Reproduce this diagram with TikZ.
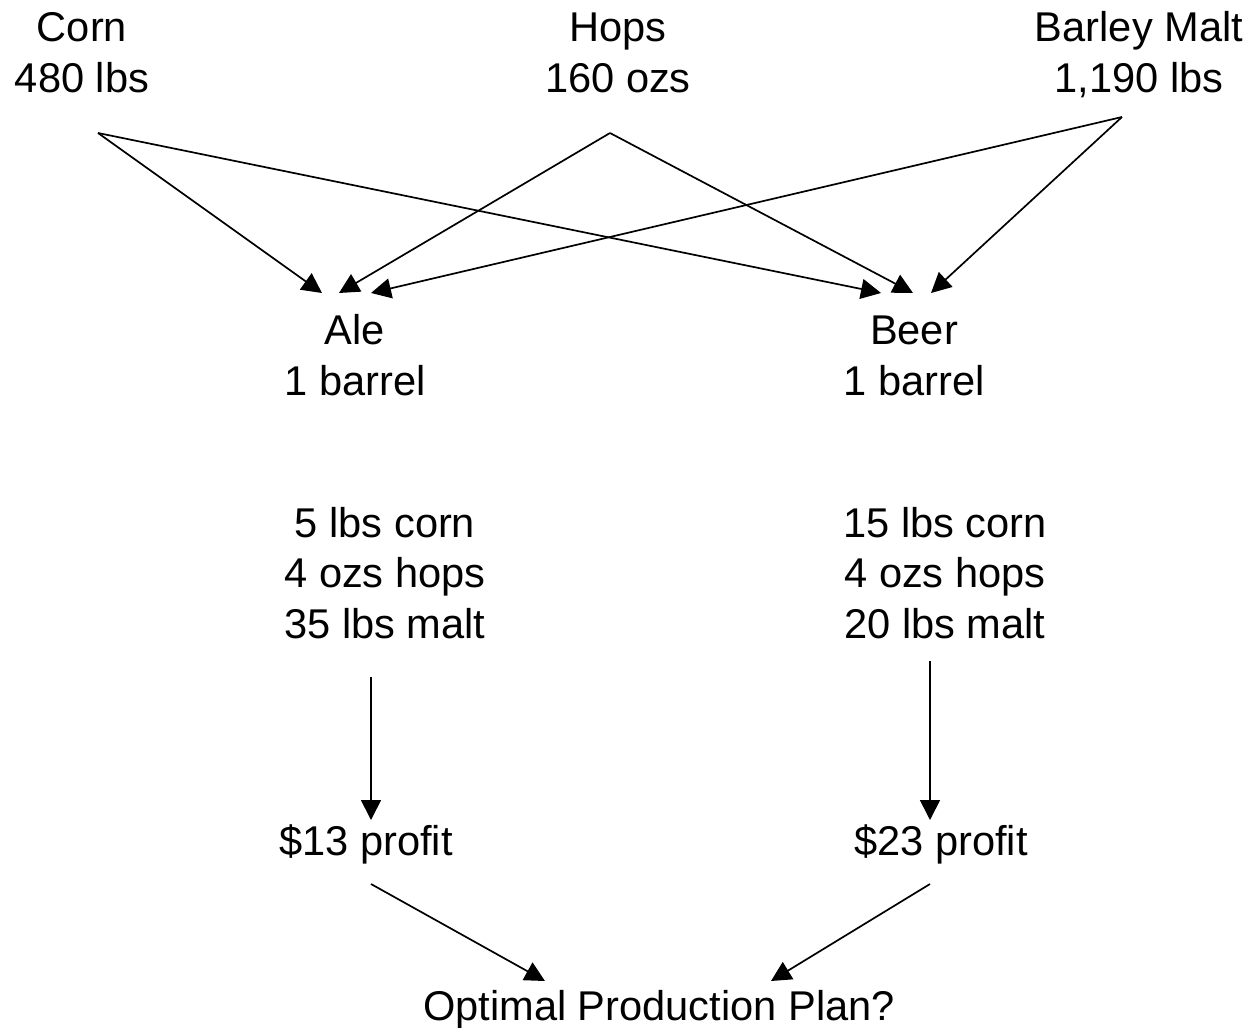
\documentclass[tikz,border=0pt]{standalone}
\usepackage{fontspec}
\setmainfont{Liberation Sans}
\usetikzlibrary{arrows.meta}
\begin{document}
\begin{tikzpicture}[x=1pt,y=-1pt,
  lbl/.style={align=center,anchor=base,inner sep=0pt,font=\fontsize{41.6}{50.5}\selectfont},
  conn/.style={line width=1.7pt,-{Triangle[length=20pt,width=20pt]}}]
\useasboundingbox (0,0) rectangle (1251,1028);
% text nodes (anchor = baseline of last line)
\node[lbl] (corn) at (82,92) {Corn\\480 lbs};
\node[lbl] (hops) at (618,92) {Hops\\160 ozs};
\node[lbl] (malt) at (1139,92) {Barley Malt\\1,190 lbs};
\node[lbl] (ale) at (355,395) {Ale\\1 barrel};
\node[lbl] (beer) at (914,395) {Beer\\1 barrel};
\node[lbl] (alein) at (385,638) {5 lbs corn\\4 ozs hops\\35 lbs malt};
\node[lbl] (beerin) at (945,638) {15 lbs corn\\4 ozs hops\\20 lbs malt};
\node[lbl] (aleprofit) at (366,855) {\$13 profit};
\node[lbl] (beerprofit) at (941,855) {\$23 profit};
\node[lbl] (plan) at (659,1020) {Optimal Production Plan?};
% connector end points
\coordinate (cS) at (98,133);
\coordinate (hS) at (610,133);
\coordinate (mS) at (1122,117);
\coordinate (aC) at (322,293);
\coordinate (aH) at (339,293);
\coordinate (aM) at (371,293);
\coordinate (bC) at (881,293);
\coordinate (bH) at (913,293);
\coordinate (bM) at (931,293);
\coordinate (aiS) at (371,677);
\coordinate (apT) at (371,820);
\coordinate (biS) at (930,661);
\coordinate (bpT) at (930,820);
\coordinate (apS) at (371,884);
\coordinate (bpS) at (930,884);
\coordinate (plA) at (545,981);
\coordinate (plB) at (771,981);
% connectors
\draw[conn] (cS) -- (aC);
\draw[conn] (cS) -- (bC);
\draw[conn] (hS) -- (aH);
\draw[conn] (hS) -- (bH);
\draw[conn] (mS) -- (aM);
\draw[conn] (mS) -- (bM);
\draw[conn] (aiS) -- (apT);
\draw[conn] (biS) -- (bpT);
\draw[conn] (apS) -- (plA);
\draw[conn] (bpS) -- (plB);
\end{tikzpicture}
\end{document}
